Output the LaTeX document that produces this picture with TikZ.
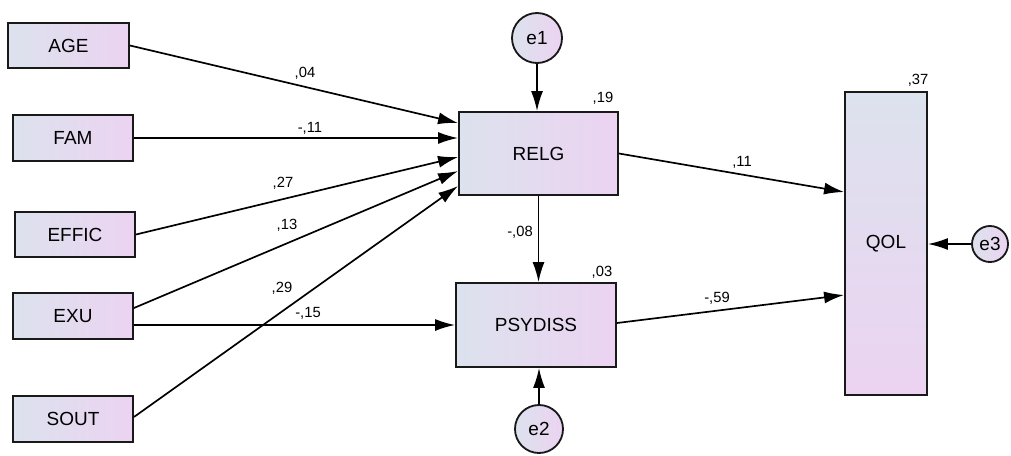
\documentclass[tikz,border=0pt]{standalone}
\usepackage{fontspec}
\setmainfont{Liberation Sans}
\usetikzlibrary{arrows.meta,calc}

\definecolor{varleft}{RGB}{220,226,238}
\definecolor{varright}{RGB}{236,211,241}

\tikzset{
  obsvar/.style={draw=black!90, line width=1.3pt, left color=varleft, right color=varright, inner sep=0pt, font=\fontsize{13.5}{15}\selectfont},
  depvar/.style={draw=black!90, line width=1.3pt, top color=varleft, bottom color=varright, inner sep=0pt, font=\fontsize{13.5}{15}\selectfont},
  errvar/.style={circle, draw=black!90, line width=1.3pt, left color=varleft, right color=varright, inner sep=0pt, font=\fontsize{13.5}{15}\selectfont},
  regpath/.style={line width=1.2pt, -{Latex[length=0.5cm,width=0.3cm]}},
  coef/.style={font=\fontsize{10.5}{12}\selectfont, inner sep=0pt}
}

\begin{document}
\begin{tikzpicture}[x=0.025cm, y=-0.025cm]
\useasboundingbox (0,0) rectangle (1011,455);
% exogenous variables
\node[obsvar, minimum width=3.025cm, minimum height=1.125cm] (age) at (68.5,45.5) {AGE};
\node[obsvar, minimum width=3cm, minimum height=1.15cm] (fam) at (73,138) {FAM};
\node[obsvar, minimum width=3cm, minimum height=1.125cm] (effic) at (75,234.5) {EFFIC};
\node[obsvar, minimum width=3cm, minimum height=1.15cm] (exu) at (73,316) {EXU};
\node[obsvar, minimum width=3cm, minimum height=1.15cm] (sout) at (73,419) {SOUT};
% mediators
\node[obsvar, minimum width=3.975cm, minimum height=2.075cm] (relg) at (538.5,153.5) {RELG};
\node[obsvar, minimum width=4cm, minimum height=2.1cm] (psydiss) at (536,325) {PSYDISS};
% outcome
\node[depvar, minimum width=2.05cm, minimum height=7.575cm] (qol) at (886,243.5) {QOL};
% errors
\node[errvar, minimum size=1.25cm] (e1) at (537,38) {e1};
\node[errvar, minimum size=1.2cm] (e2) at (539,429) {e2};
\node[errvar, minimum size=0.9cm] (e3) at (990,244) {e3};

\draw[regpath] (age.east) -- ($(relg.west)+(0,-30.5)$);
\draw[regpath] (fam.east) -- (fam.east -| relg.west);
\draw[regpath] (effic.east) -- ($(relg.west)+(0,3.5)$);
\draw[regpath] ($(exu.east)+(0,-8)$) -- ($(relg.west)+(0,17.5)$);
\draw[regpath] (exu.east |- psydiss.west) -- (psydiss.west);
\draw[regpath] ($(sout.east)+(0,-2)$) -- ($(relg.west)+(0,32.5)$);
\draw[regpath] (e1) -- (e1 |- relg.north);
\draw[regpath] (relg.south) -- (relg.south |- psydiss.north);
\draw[regpath] (e2) -- (e2 |- psydiss.south);
\draw[regpath] (relg.east) -- ($(qol.west)+(0,-51.5)$);
\draw[regpath] ($(psydiss.east)+(0,-2)$) -- ($(qol.west)+(0,51.5)$);
\draw[regpath] (e3) -- (e3 -| qol.east);

% estimates
\node[coef] (c-age) at (305,73) {,04};
\node[coef] (c-fam) at (310,128) {-,11};
\node[coef] (c-effic) at (283,183) {,27};
\node[coef] (c-exu1) at (287,225) {,13};
\node[coef] (c-sout) at (282,288) {,29};
\node[coef] (c-exu2) at (308,313) {-,15};
\node[coef] (c-relg) at (520,232) {-,08};
\node[coef] (c-qol1) at (742,162) {,11};
\node[coef] (c-qol2) at (717,298) {-,59};
\node[coef] (r-relg) at (603,98) {,19};
\node[coef] (r-psy) at (602,272) {,03};
\node[coef] (r-qol) at (918,80) {,37};
\end{tikzpicture}
\end{document}
